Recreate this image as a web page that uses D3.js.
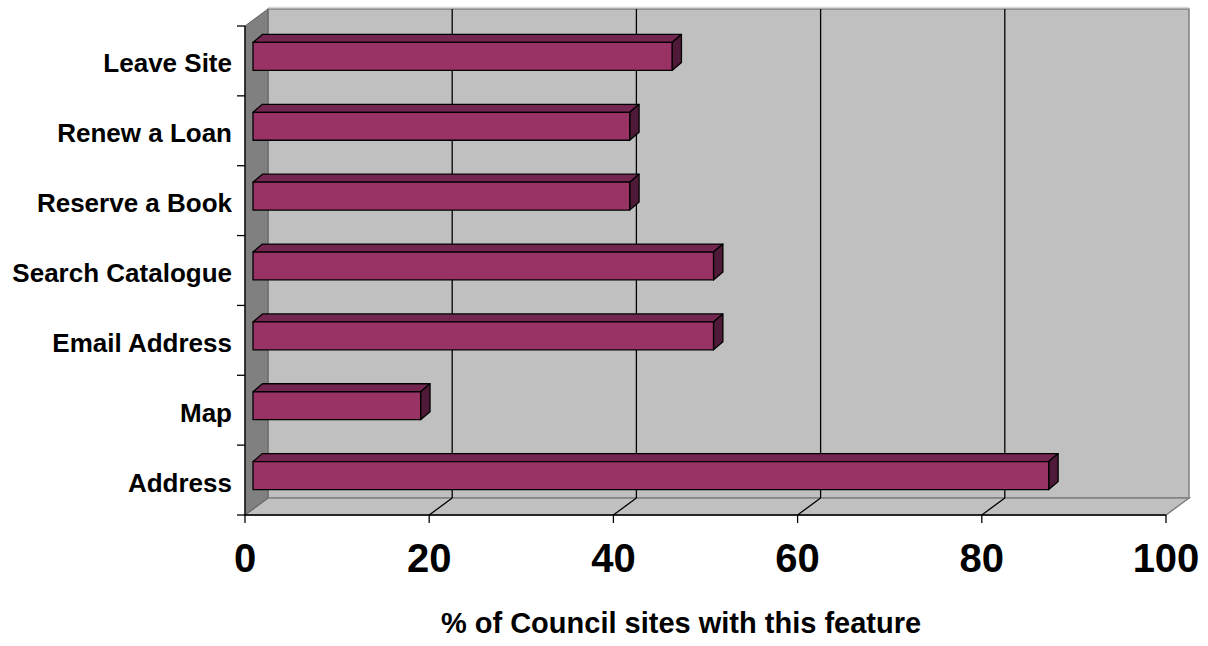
<!DOCTYPE html>
<html>
<head>
<meta charset="utf-8">
<script src="https://cdn.jsdelivr.net/npm/d3@7/dist/d3.min.js"></script>
<style>
  html, body { margin: 0; padding: 0; background: #ffffff; }
  svg { display: block; }
  text { font-family: Arial, "Liberation Sans", sans-serif; font-weight: bold; fill: #000; }
</style>
</head>
<body>
<svg id="chart" width="1208" height="646"></svg>
<script>
// Feature categories, listed top to bottom
const categories = ["Leave Site", "Renew a Loan", "Reserve a Book", "Search Catalogue", "Email Address", "Map", "Address"];
// Percentage of council sites offering each feature
const values = [45.5, 40.9, 40.9, 50.0, 50.0, 18.2, 86.4];
// Value axis ticks
const xTicks = [0, 20, 40, 60, 80, 100];
const xTitle = "% of Council sites with this feature";

const svg = d3.select("#chart");

// Front plane of the plot box and the oblique depth offset to the back wall
const front = { left: 245, right: 1166, top: 26, bottom: 515 };
const depth = { dx: 23, dy: -17 };
// Bars sit partway into the depth
const barFront = { dx: 8, dy: -4.5 };
const barDepth = { dx: 9.4, dy: -8 };

const x = d3.scaleLinear().domain([0, 100]).range([front.left, front.right]);
const y = d3.scaleBand().domain(categories).range([front.top, front.bottom]).paddingInner(0).paddingOuter(0);

const pts = a => a.map(p => p.join(",")).join(" ");

// Back wall
svg.append("rect")
  .attr("x", front.left + depth.dx).attr("y", front.top + depth.dy)
  .attr("width", front.right - front.left).attr("height", front.bottom - front.top)
  .attr("fill", "#c0c0c0").attr("stroke", "#808080").attr("stroke-width", 1.5);
svg.append("line")
  .attr("x1", front.left + depth.dx).attr("x2", front.right + depth.dx)
  .attr("y1", front.top + depth.dy - 1.5).attr("y2", front.top + depth.dy - 1.5)
  .attr("stroke", "#d8d8d8").attr("stroke-width", 1.5);

// Side wall
svg.append("polygon")
  .attr("points", pts([
    [front.left, front.top], [front.left + depth.dx, front.top + depth.dy],
    [front.left + depth.dx, front.bottom + depth.dy], [front.left, front.bottom]
  ]))
  .attr("fill", "#808080").attr("stroke", "#606060").attr("stroke-width", 1);

// Floor
svg.append("polygon")
  .attr("points", pts([
    [front.left, front.bottom], [front.left + depth.dx, front.bottom + depth.dy],
    [front.right + depth.dx, front.bottom + depth.dy], [front.right, front.bottom]
  ]))
  .attr("fill", "#c0c0c0").attr("stroke", "#808080").attr("stroke-width", 1.5);

// Gridlines on back wall and floor
xTicks.filter(t => t > 0 && t < 100).forEach(t => {
  const xb = x(t) + depth.dx;
  svg.append("line")
    .attr("x1", xb).attr("x2", xb)
    .attr("y1", front.top + depth.dy).attr("y2", front.bottom + depth.dy)
    .attr("stroke", "#000").attr("stroke-width", 1.3);
  svg.append("line")
    .attr("x1", x(t)).attr("y1", front.bottom)
    .attr("x2", xb).attr("y2", front.bottom + depth.dy)
    .attr("stroke", "#000").attr("stroke-width", 1.3);
});
svg.append("line")
  .attr("x1", x(0)).attr("y1", front.bottom)
  .attr("x2", x(0) + depth.dx).attr("y2", front.bottom + depth.dy)
  .attr("stroke", "#606060").attr("stroke-width", 1);

// 3D bars
const barH = y.bandwidth() * 0.4;
const bars = svg.append("g");
categories.forEach((c, i) => {
  const v = values[i];
  const x0 = x(0) + barFront.dx;
  const x1 = x(v) + barFront.dx;
  const yc = y(c) + y.bandwidth() / 2 + barFront.dy;
  const y0 = yc - barH / 2, y1 = yc + barH / 2;
  const g = bars.append("g").attr("stroke", "#000").attr("stroke-width", 1.3).attr("stroke-linejoin", "round");
  // top face
  g.append("polygon").attr("points", pts([
    [x0, y0], [x0 + barDepth.dx, y0 + barDepth.dy], [x1 + barDepth.dx, y0 + barDepth.dy], [x1, y0]
  ])).attr("fill", "#732650");
  // end face
  g.append("polygon").attr("points", pts([
    [x1, y0], [x1 + barDepth.dx, y0 + barDepth.dy], [x1 + barDepth.dx, y1 + barDepth.dy], [x1, y1]
  ])).attr("fill", "#4f1a38");
  // front face
  g.append("rect").attr("x", x0).attr("y", y0).attr("width", x1 - x0).attr("height", y1 - y0)
    .attr("fill", "#993366");
});

// Axis lines
svg.append("line")
  .attr("x1", front.left).attr("x2", front.left)
  .attr("y1", front.top).attr("y2", front.bottom)
  .attr("stroke", "#000").attr("stroke-width", 1.3);
svg.append("line")
  .attr("x1", front.left).attr("x2", front.right)
  .attr("y1", front.bottom).attr("y2", front.bottom)
  .attr("stroke", "#000").attr("stroke-width", 1.3);

// Category tick marks on the band boundaries
const yBounds = categories.map(c => y(c)).concat([front.bottom]);
svg.append("g").selectAll("line").data(yBounds).join("line")
  .attr("x1", front.left - 8).attr("x2", front.left)
  .attr("y1", d => d).attr("y2", d => d)
  .attr("stroke", "#000").attr("stroke-width", 1.3);

// Category labels
svg.append("g").selectAll("text").data(categories).join("text")
  .attr("x", 232)
  .attr("y", d => y(d) + y.bandwidth() / 2 + 11.5)
  .attr("text-anchor", "end")
  .attr("font-size", 26)
  .text(d => d);

// Value ticks and labels
svg.append("g").selectAll("line").data(xTicks).join("line")
  .attr("x1", d => x(d)).attr("x2", d => x(d))
  .attr("y1", front.bottom).attr("y2", front.bottom + 8)
  .attr("stroke", "#000").attr("stroke-width", 1.3);
svg.append("g").selectAll("text").data(xTicks).join("text")
  .attr("x", d => x(d))
  .attr("y", 572)
  .attr("text-anchor", "middle")
  .attr("font-size", 40)
  .text(d => d);

// Axis title
svg.append("text")
  .attr("x", 681).attr("y", 633)
  .attr("text-anchor", "middle")
  .attr("font-size", 29)
  .text(xTitle);
</script>
</body>
</html>
